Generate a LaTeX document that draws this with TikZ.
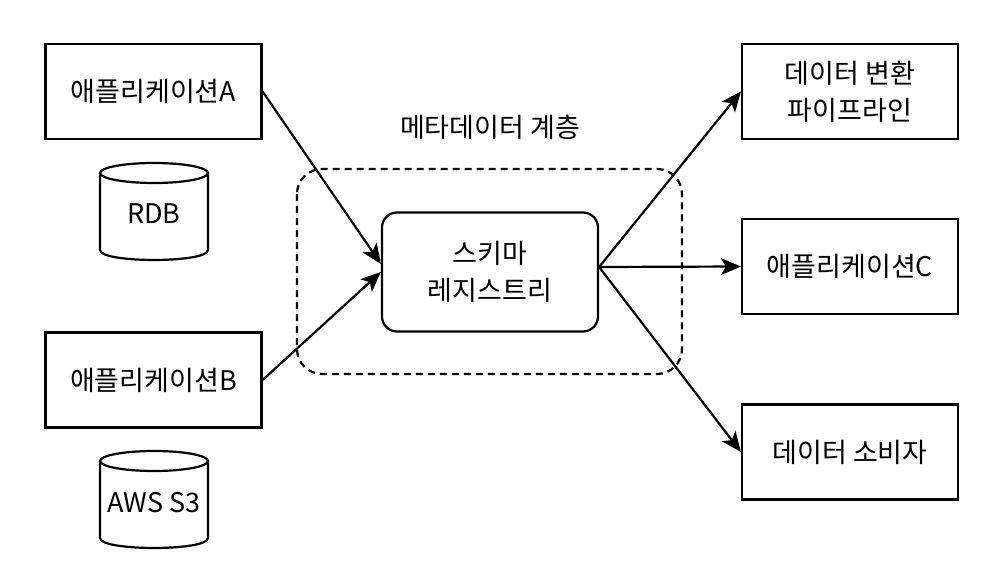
\documentclass[tikz,border=0pt]{standalone}
\usepackage{fontspec}
\setmainfont{Noto Sans CJK KR}
\usetikzlibrary{arrows.meta}
\begin{document}
\begin{tikzpicture}[x=1pt,y=-1pt,
  box/.style={draw,line width=2.2pt,minimum width=216pt,minimum height=95pt,inner sep=0pt,font=\fontsize{27}{37}\selectfont,align=center},
  rbox/.style={box,rounded corners=15pt,minimum height=119pt},
  txt/.style={font=\fontsize{27}{37}\selectfont,align=center,inner sep=0pt},
  db/.style={draw,line width=2.2pt},
  layer/.style={draw,line width=2.2pt,dash pattern=on 7pt off 5pt,rounded corners=25pt},
  arr/.style={draw,line width=2.2pt,-{Stealth[length=20pt,width=17pt,inset=5pt]}}
]
\useasboundingbox (0,0) rectangle (1006,580);
% layer
\draw[layer] (297,169) rectangle (682,374);
\node[txt] (layerlbl) at (490,127) {메타데이터 계층};
% boxes
\node[box] (appA) at (153.5,91.5) {애플리케이션A};
\node[box] (appB) at (153.5,380) {애플리케이션B};
\node[rbox,fill=white] (schema) at (490,272) {스키마\\레지스트리};
\node[box] (trans) at (850,91.5) {데이터 변환\\파이프라인};
\node[box] (appC) at (850,266.5) {애플리케이션C};
\node[box] (cons) at (850,452) {데이터 소비자};
% cylinders
\draw[db] (100,173) -- (100,250) .. controls (100,263.3) and (208,263.3) .. (208,250) -- (208,173);
\draw[db] (154,173) ellipse [x radius=54, y radius=10];
\node[txt] (rdb) at (154,214) {RDB};
\draw[db] (100,461) -- (100,538) .. controls (100,551.3) and (208,551.3) .. (208,538) -- (208,461);
\draw[db] (154,461) ellipse [x radius=54, y radius=10];
\node[txt] (s3) at (154,503) {AWS S3};
% connectors
\coordinate (inA) at ([yshift=8pt]schema.west);
\coordinate (out) at ([yshift=5pt]schema.east);
\draw[arr] (appA.east) -- (inA);
\draw[arr] (appB.east) -- (schema.west);
\draw[arr] (out) -- (trans.west);
\draw[arr] (out) -- (appC.west);
\draw[arr] (out) -- (cons.west);
\end{tikzpicture}
\end{document}
